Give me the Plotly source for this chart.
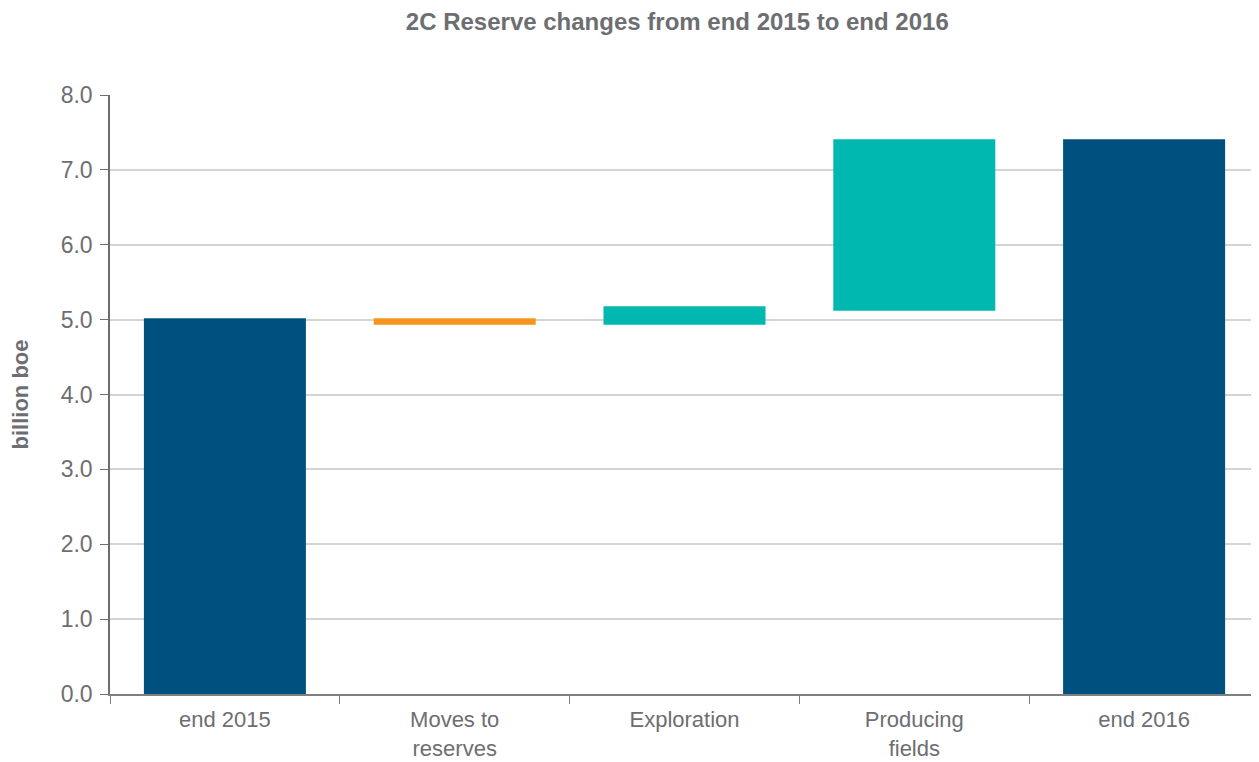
import plotly.graph_objects as go

categories = ["end 2015", "Moves to<br>reserves", "Exploration", "Producing<br>fields", "end 2016"]
bar_base = [0.0, 4.93, 4.93, 5.12, 0.0]
bar_length = [5.02, 0.09, 0.25, 2.29, 7.41]
bar_colors = ["#00507f", "#f7941d", "#00b8b0", "#00b8b0", "#00507f"]
y_ticks = [0, 1, 2, 3, 4, 5, 6, 7, 8]

grey = "#6d6e71"
font_family = "Liberation Sans, Arial, sans-serif"

fig = go.Figure()
fig.add_trace(
    go.Bar(
        x=categories,
        y=bar_length,
        base=bar_base,
        marker_color=bar_colors,
        marker_line_width=0,
        width=0.705,
        showlegend=False,
    )
)

# page body has an 8px margin, so the figure is a bit smaller than the window
fig.update_layout(
    width=1251,
    height=754,
    paper_bgcolor="white",
    plot_bgcolor="white",
    margin={"l": 102, "r": 0, "t": 87, "b": 68},
    title={
        "text": "<b>2C Reserve changes from end 2015 to end 2016</b>",
        "x": 0.535,
        "xanchor": "center",
        "y": 0.982,
        "yanchor": "middle",
        "font": {"family": font_family, "size": 24, "color": grey},
    },
    font={"family": font_family, "color": grey},
)

fig.update_yaxes(
    range=[0, 8],
    tickvals=y_ticks,
    tickformat=".1f",
    tickfont={"size": 23, "color": grey},
    ticklabelstandoff=3,
    showgrid=True,
    gridcolor="#d4d4d4",
    gridwidth=1.5,
    showline=True,
    linecolor="#6d6e71",
    linewidth=1.5,
    ticks="outside",
    ticklen=8,
    tickcolor="#6d6e71",
    zeroline=False,
    title={"text": "<b>billion boe</b>", "font": {"size": 22, "color": grey}, "standoff": 30},
)

fig.update_xaxes(
    tickfont={"size": 22, "color": grey},
    ticklabelstandoff=5,
    automargin=False,
    showline=True,
    linecolor="#7f7f7f",
    linewidth=1.5,
    ticks="outside",
    tickson="boundaries",
    ticklen=8,
    tickcolor="#7f7f7f",
    showgrid=False,
)

fig.write_html("out.html")
